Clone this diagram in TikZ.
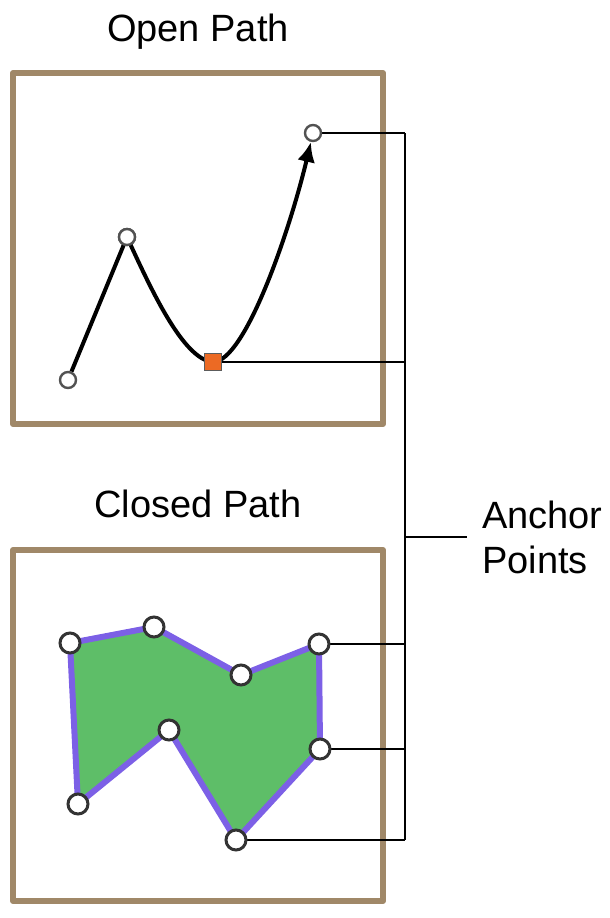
\documentclass[tikz,border=0pt]{standalone}
\usepackage{fontspec}
\setmainfont{Liberation Sans}
\usepackage{tikz}
\usetikzlibrary{arrows.meta,calc,positioning}
\definecolor{framebrown}{RGB}{160,136,104}
\definecolor{shapegreen}{RGB}{94,190,104}
\definecolor{edgepurple}{RGB}{124,96,230}
\definecolor{sqorange}{RGB}{236,106,36}
\definecolor{ptgray}{RGB}{51,51,51}
\tikzset{
  frame/.style={draw=framebrown,line width=6pt,line join=round},
  openpt/.style={circle,draw=ptgray!85,fill=white,line width=2.4pt,minimum size=16pt,inner sep=0pt},
  closedpt/.style={circle,draw=ptgray,fill=white,line width=3pt,minimum size=20pt,inner sep=0pt},
  sqpt/.style={draw=ptgray!80,fill=sqorange,line width=1.8pt,minimum size=17pt,inner sep=0pt},
  leader/.style={draw=black,line width=1.3pt},
  title/.style={font=\fontsize{38}{45}\selectfont,anchor=base,inner sep=0pt}
}
\begin{document}
\begin{tikzpicture}[x=1pt,y=-1pt]
\useasboundingbox (0,0) rectangle (610,918);
% frames
\draw[frame] (13,73) rectangle (383,424);
\draw[frame] (13,550) rectangle (383,901);
\node[title] (opent) at (198,41) {Open Path};
\node[title] (closedt) at (198,517) {Closed Path};
% closed path
\coordinate (c1) at (70,643);
\coordinate (c2) at (154,627);
\coordinate (c3) at (241,675);
\coordinate (c4) at (319,644);
\coordinate (c5) at (320,749);
\coordinate (c6) at (236,840);
\coordinate (c7) at (169,730);
\coordinate (c8) at (78,804);
\fill[shapegreen] (c1) -- (c2) -- (c3) -- (c4) -- (c5) -- (c6) -- (c7) -- (c8) -- cycle;
\draw[edgepurple,line width=6pt,line join=round] (c1) -- (c2) -- (c3) -- (c4) -- (c5) -- (c6) -- (c7) -- (c8) -- cycle;
% leaders
\coordinate (bus) at (405,0);
\draw[leader] (313,133) -- (313,133 -| bus) coordinate (b1);
\draw[leader] (213,362) -- (213,362 -| bus);
\draw[leader] (c4) -- (c4 -| bus);
\draw[leader] (c5) -- (c5 -| bus);
\draw[leader] (c6) -- (c6 -| bus) coordinate (b6);
\draw[leader] (b1) -- (b6);
\draw[leader] (405,537) coordinate (lbl) -- ++(62,0) coordinate (lblend);
\node[font=\fontsize{38}{45}\selectfont,align=left,anchor=west,inner sep=0pt] (anchortxt) at ($(lblend)+(15,0)$) {Anchor\\Points};
% closed points
\foreach \p in {c1,c2,c3,c4,c5,c6,c7,c8}
  \node[closedpt] (n\p) at (\p) {};
% open path
\node[openpt] (o1) at (68,380) {};
\node[openpt] (o2) at (127,237) {};
\node[sqpt] (sq) at (213,362) {};
\node[openpt] (o4) at (313,133) {};
\draw[line width=4pt,line join=round,-{Latex[length=20pt,width=18pt]}]
  (o1) -- (o2.center) .. controls (150,287) and (183,360) .. (sq.center)
  .. controls (245,362) and (290,230) .. (o4);
\node[openpt] at (o2) {};
\node[sqpt] at (sq) {};
\end{tikzpicture}
\end{document}
